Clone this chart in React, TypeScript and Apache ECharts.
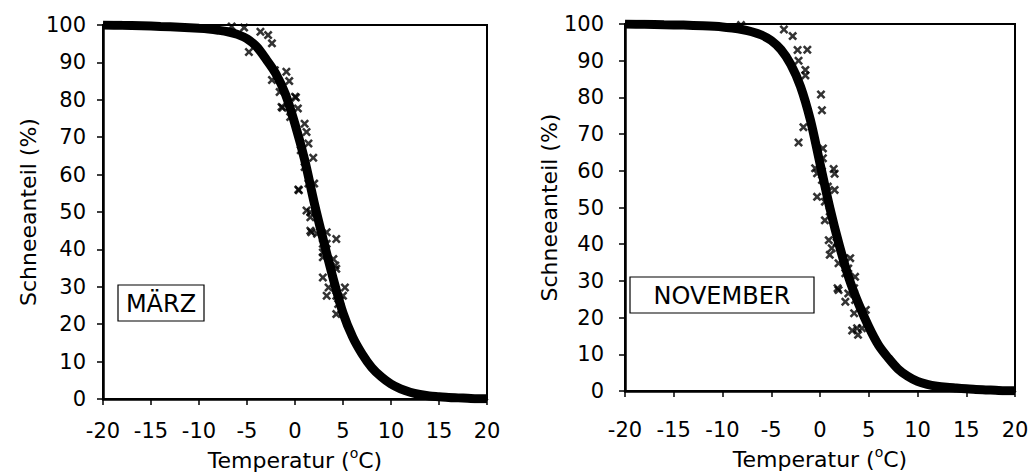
import React, { useEffect, useRef } from "react";
import * as echarts from "echarts";

// Temperature grid of the fitted curves (°C)
const curveTemps = [-20, -18, -16, -14, -12, -10, -9, -8, -7, -6, -5, -4, -3, -2, -1, 0, 1, 2, 3, 4, 5, 6, 7, 8, 9, 10, 11, 12, 13, 14, 15, 16, 17, 18, 19, 20];
// Fitted snow share (%) – March
const marchCurve = [100, 99.9, 99.8, 99.6, 99.4, 99.1, 98.9, 98.6, 98.2, 97.5, 96.3, 94.2, 90.8, 87.0, 81.5, 73.5, 64.0, 52.5, 42.0, 32.0, 23.0, 16.6, 12.0, 8.4, 5.9, 4.0, 2.7, 1.8, 1.2, 0.8, 0.6, 0.4, 0.3, 0.2, 0.1, 0.1];
// Fitted snow share (%) – November
const novemberCurve = [100, 99.9, 99.8, 99.7, 99.5, 99.2, 98.9, 98.5, 97.9, 97.0, 95.5, 93.0, 89.0, 83.0, 74.0, 62.0, 50.0, 39.5, 30.5, 23.5, 17.5, 12.5, 9.0, 6.0, 4.0, 2.6, 1.8, 1.3, 1.0, 0.8, 0.6, 0.4, 0.3, 0.2, 0.1, 0.1];

// Observations – March
const marchObsTemp = [-6.6, -5.3, -3.6, -2.8, -2.4, -4.8, -2.1, -0.9, -2.4, -0.6, -1.6, 0.1, -1.3, 0.3, -0.5, 1.0, 1.2, 1.4, 0.6, 1.9, 1.0, 1.4, 2.0, 0.4, 1.2, 1.6, 1.6, 2.3, 3.3, 4.3, 2.9, 2.9, 4.0, 4.3, 2.9, 3.5, 5.2, 3.3, 4.3, 5.0, 4.3, 4.7, 4.5, 4.2, 2.9, 3.3, 1.7, 1.6, 0.35, -1.4, 0.0];
const marchObsShare = [99.6, 99.3, 98.2, 97.3, 95.1, 92.8, 87.9, 87.5, 85.3, 85.0, 82.1, 80.6, 77.9, 77.7, 75.4, 73.6, 71.4, 68.3, 66.5, 64.5, 62.0, 57.6, 57.6, 55.8, 50.4, 48.6, 45.0, 44.2, 44.6, 42.8, 41.5, 37.9, 37.4, 34.8, 32.5, 29.8, 29.8, 27.6, 27.6, 27.6, 22.7, 26.3, 25.4, 35.7, 39.2, 41.5, 44.6, 49.9, 56.0, 78.1, 80.8];

// Observations – November
const novObsTemp = [-8.1, -3.7, -2.8, -2.3, -1.3, -2.2, -1.5, -1.5, 0.1, 0.2, -1.7, -2.2, 0.3, 0.3, -0.5, 1.4, 1.5, 0.2, -0.3, 0.2, 0.8, 1.5, -0.3, 0.5, 1.0, 0.5, 0.9, 1.2, 1.7, 1.0, 3.1, 2.4, 1.9, 2.9, 2.6, 3.6, 1.8, 3.5, 1.9, 2.9, 2.6, 3.6, 4.7, 3.5, 3.3, 3.9, 4.3, 3.8];
const novObsShare = [99.7, 98.5, 96.7, 92.9, 93.0, 90.0, 87.5, 86.0, 80.8, 76.5, 71.9, 67.7, 66.1, 63.4, 60.7, 60.5, 59.2, 59.8, 59.3, 57.5, 55.7, 54.8, 52.9, 51.6, 48.9, 46.5, 41.1, 38.9, 40.5, 37.1, 36.2, 36.2, 34.8, 33.4, 32.1, 31.1, 28.0, 28.0, 27.5, 26.6, 24.3, 24.8, 22.1, 21.2, 16.5, 15.3, 17.1, 17.1];

const xTitle = "Temperatur ({sup|o}C)";
const yTitle = "Schneeanteil (%)";
const panelLabels = ["MÄRZ", "NOVEMBER"];

const FONT = "DejaVu Sans";
const CROSS = "path://M0,1L1,0L2.5,1.5L4,0L5,1L3.5,2.5L5,4L4,5L2.5,3.5L1,5L0,4L1.5,2.5Z";

function pairs(xs: number[], ys: number[]) {
  return xs.map((x, i) => [x, ys[i]]);
}

function xAxisFor(gridIndex: number, labelMargin: number, nameGap: number) {
  return {
    type: "value",
    gridIndex,
    min: -20,
    max: 20,
    interval: 5,
    name: xTitle,
    nameLocation: "middle",
    nameGap,
    nameTextStyle: {
      fontSize: 22,
      fontFamily: FONT,
      color: "#000",
      lineHeight: 30,
      rich: { sup: { fontSize: 14, fontFamily: FONT, color: "#000", verticalAlign: "top", lineHeight: 16 } },
    },
    axisLine: { onZero: false, lineStyle: { color: "#000", width: 2.5 } },
    axisTick: { length: 6, lineStyle: { color: "#000", width: 1.5 } },
    axisLabel: { fontSize: 21, fontFamily: FONT, color: "#000", margin: labelMargin },
    splitLine: { show: false },
  };
}

function yAxisFor(gridIndex: number, labelMargin: number, nameGap: number) {
  return {
    type: "value",
    gridIndex,
    min: 0,
    max: 100,
    interval: 10,
    name: yTitle,
    nameLocation: "middle",
    nameGap,
    nameTextStyle: { fontSize: 22, fontFamily: FONT, color: "#000" },
    axisLine: { onZero: false, lineStyle: { color: "#000", width: 2.5 } },
    axisTick: { length: 6, lineStyle: { color: "#000", width: 1.5 } },
    axisLabel: { fontSize: 21, fontFamily: FONT, color: "#000", margin: labelMargin },
    splitLine: { show: false },
  };
}

export default function App() {
  const ref = useRef<HTMLDivElement>(null);
  useEffect(() => {
    if (!ref.current) return;
    const chart = echarts.init(ref.current, undefined, { renderer: "svg" });
    const option = {
      animation: false,
      backgroundColor: "#fff",
      grid: [
        { left: 103, top: 25, width: 384, height: 374, outerBoundsMode: "none", containLabel: false, show: true, borderColor: "#000", borderWidth: 2, backgroundColor: "transparent" },
        { left: 625, top: 24, width: 390, height: 367, outerBoundsMode: "none", containLabel: false, show: true, borderColor: "#000", borderWidth: 2, backgroundColor: "transparent" },
      ],
      xAxis: [xAxisFor(0, 21, 41), xAxisFor(1, 28, 52)],
      yAxis: [yAxisFor(0, 17, 64), yAxisFor(1, 21, 58)],
      series: [
        {
          type: "line",
          xAxisIndex: 0,
          yAxisIndex: 0,
          data: pairs(curveTemps, marchCurve),
          smooth: 0.3,
          showSymbol: false,
          lineStyle: { color: "#000", width: 9 },
          z: 2,
        },
        {
          type: "scatter",
          xAxisIndex: 0,
          yAxisIndex: 0,
          data: pairs(marchObsTemp, marchObsShare),
          symbol: CROSS,
          symbolSize: 9,
          itemStyle: { color: "#000" },
          z: 3,
        },
        {
          type: "line",
          xAxisIndex: 1,
          yAxisIndex: 1,
          data: pairs(curveTemps, novemberCurve),
          smooth: 0.3,
          showSymbol: false,
          lineStyle: { color: "#000", width: 9 },
          z: 2,
        },
        {
          type: "scatter",
          xAxisIndex: 1,
          yAxisIndex: 1,
          data: pairs(novObsTemp, novObsShare),
          symbol: CROSS,
          symbolSize: 9,
          itemStyle: { color: "#000" },
          z: 3,
        },
      ],
      graphic: [
        { type: "rect", shape: { x: 118, y: 285, width: 86, height: 36 }, style: { fill: "#fff", stroke: "#000", lineWidth: 1.2 }, z: 10 },
        { type: "text", x: 161, y: 304, style: { text: panelLabels[0], fontSize: 24, fontFamily: FONT, fill: "#000", align: "center", verticalAlign: "middle" }, z: 11 },
        { type: "rect", shape: { x: 630, y: 277, width: 184, height: 36 }, style: { fill: "#fff", stroke: "#000", lineWidth: 1.2 }, z: 10 },
        { type: "text", x: 722, y: 296, style: { text: panelLabels[1], fontSize: 24, fontFamily: FONT, fill: "#000", align: "center", verticalAlign: "middle" }, z: 11 },
      ],
    };
    chart.setOption(option as any);
    return () => chart.dispose();
  }, []);
  return <div ref={ref} style={{ position: "absolute", left: 0, top: 0, width: 1028, height: 476 }} />;
}
